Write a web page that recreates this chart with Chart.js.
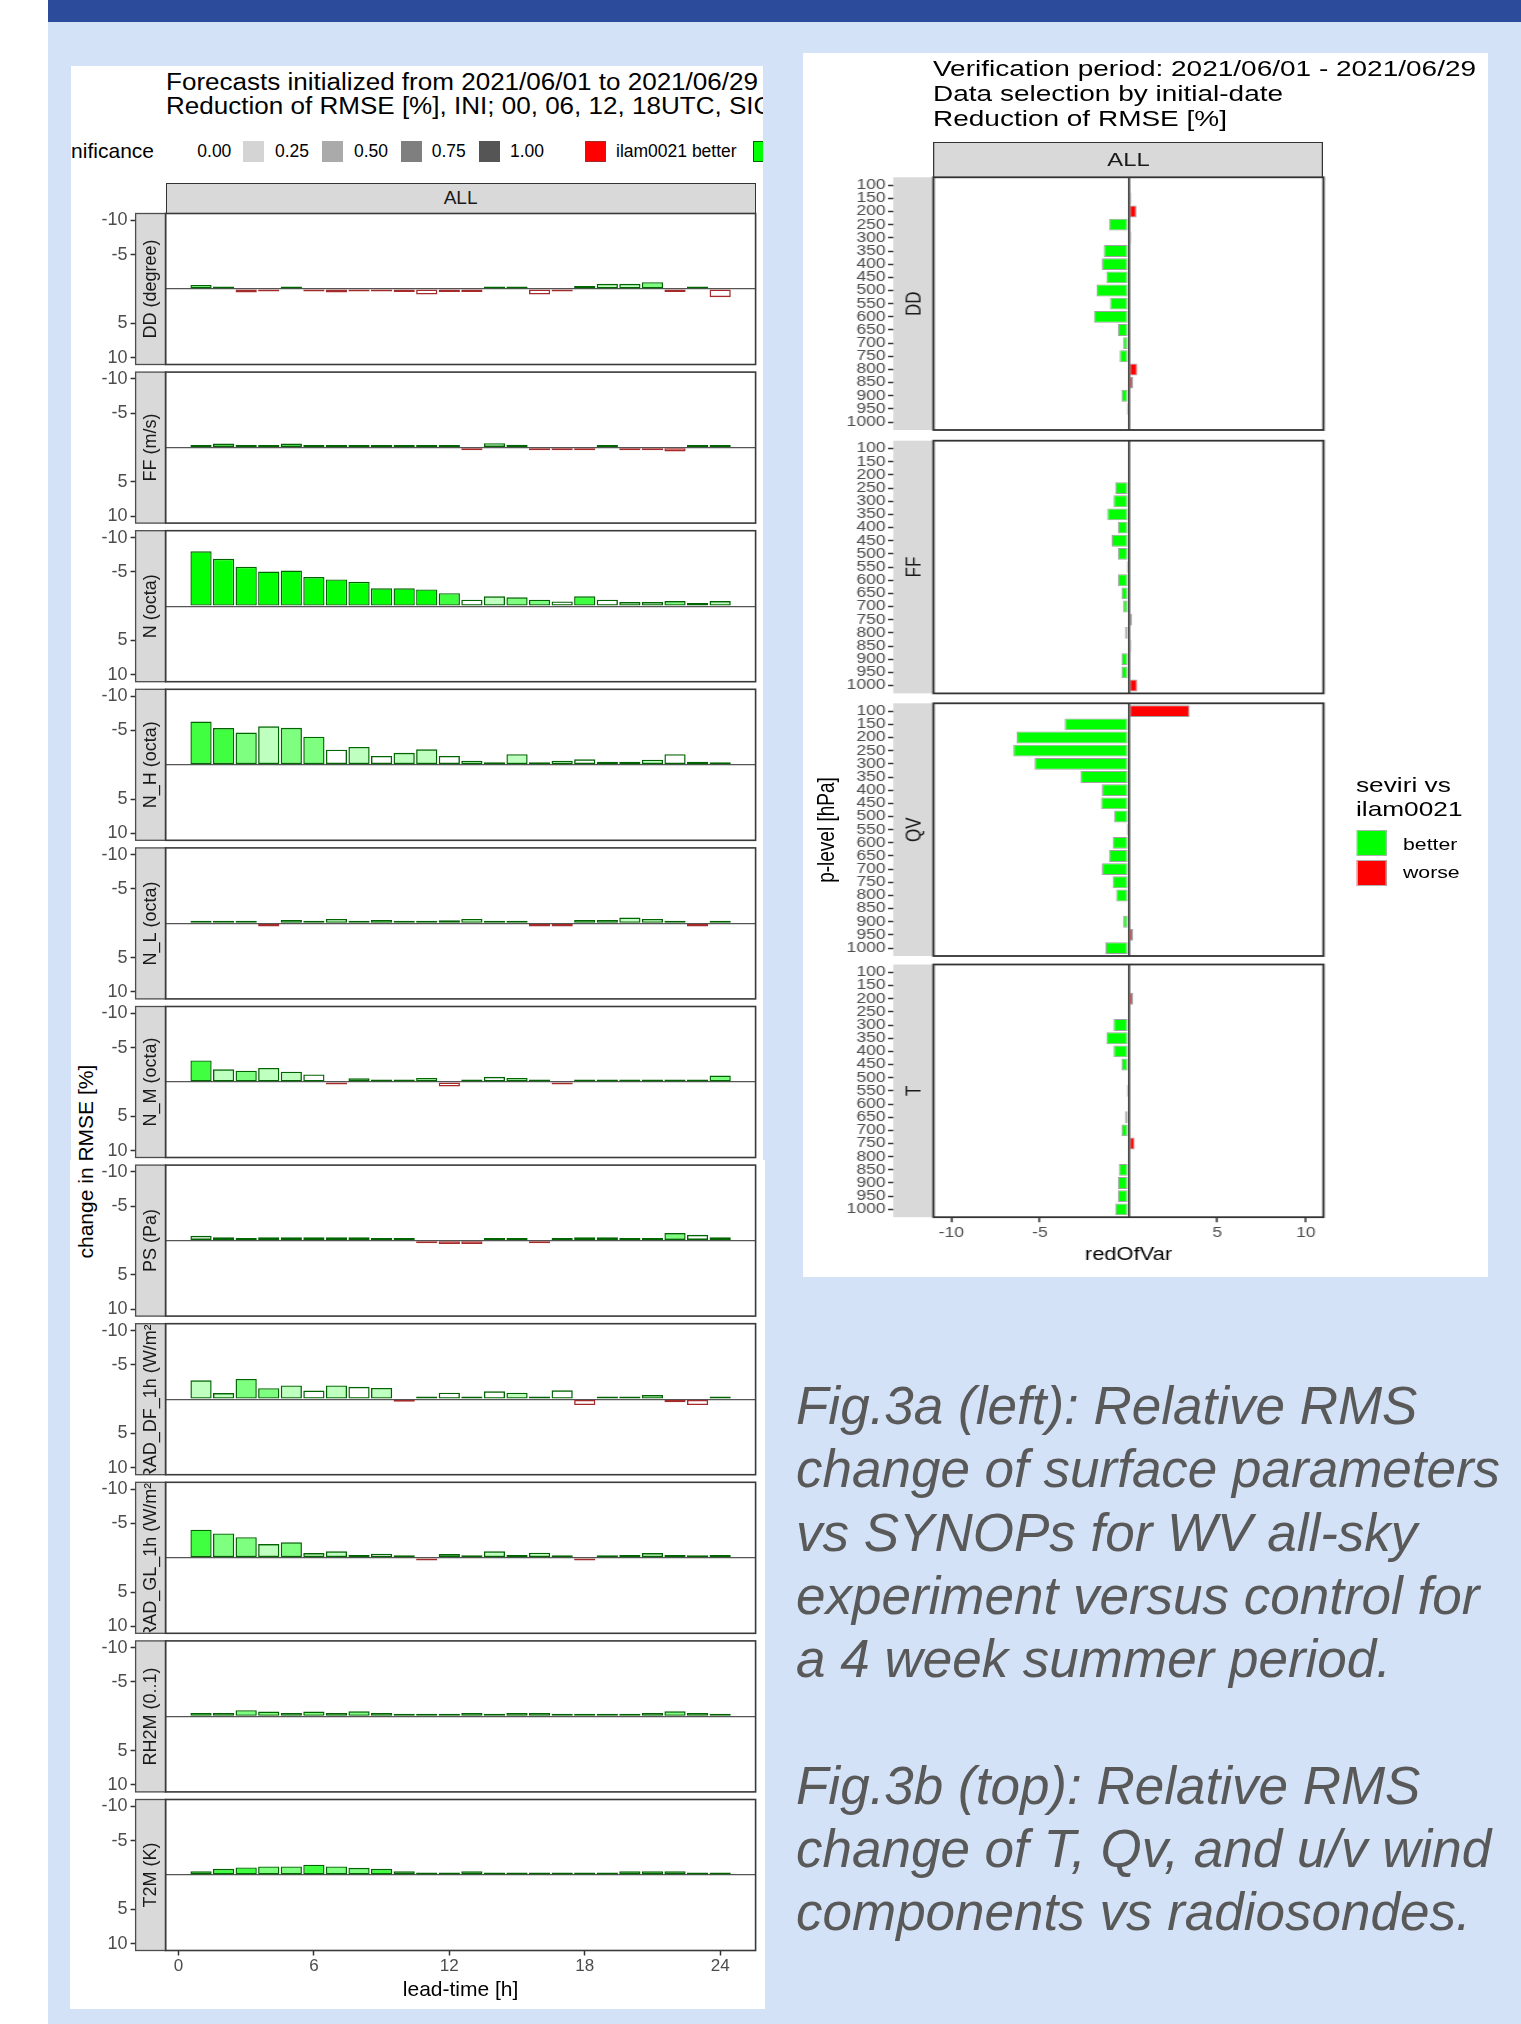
<!DOCTYPE html>
<html><head><meta charset="utf-8">
<script src="https://cdn.jsdelivr.net/npm/chart.js@4.4.1/dist/chart.umd.min.js"></script>
<style>
html,body{margin:0;padding:0;}
body{width:1521px;height:2024px;position:relative;overflow:hidden;background:#D3E2F6;font-family:"Liberation Sans",Arial,sans-serif;}
.abs{position:absolute;}
.nw{white-space:nowrap;}
canvas{position:absolute;}
</style></head><body>
<div class="abs" style="left:0;top:0;width:48px;height:2024px;background:#fff"></div>
<div class="abs" style="left:48px;top:0;width:1473px;height:22px;background:#2D4B9B"></div>
<div class="abs" style="left:71px;top:66px;width:692px;height:1094px;background:#fff"></div>
<div class="abs" style="left:70px;top:1160px;width:695px;height:849px;background:#fff"></div>
<div class="abs" style="left:803px;top:53px;width:685px;height:1224px;background:#fff"></div>
<div id="leftClip" class="abs" style="left:71px;top:66px;width:692px;height:120px;overflow:hidden"></div>
<div id="leftHost" class="abs" style="left:0;top:0;width:1521px;height:2024px"></div>
<div id="rightWrap" class="abs" style="left:803px;top:52px;width:548.8px;height:1225px;transform-origin:0 0;transform:scaleX(1.25)"></div>
<div id="caption" class="abs nw" style="left:796px;top:1374px;font-style:italic;font-size:53px;line-height:63.3px;color:#595959"></div>
<script>
// ---------------- DATA ----------------
const leadHours = [1,2,3,4,5,6,7,8,9,10,11,12,13,14,15,16,17,18,19,20,21,22,23,24];
const xTicksLeft = [0,6,12,18,24];
const yTicksLeft = [-10,-5,0,5,10];
const leftPanelLabels = ['DD (degree)','FF (m/s)','N (octa)','N_H (octa)','N_L (octa)','N_M (octa)','PS (Pa)','RAD_DF_1h (W/m\u00b2)','RAD_GL_1h (W/m\u00b2)','RH2M (0..1)','T2M (K)'];

const DD_val = [-0.6,-0.2,0.5,0.25,-0.3,0.25,0.5,0.25,0.25,0.45,0.8,0.45,0.45,-0.25,-0.25,0.8,0.25,-0.45,-0.75,-0.75,-1.0,0.45,-0.1,1.2];
const DD_sig = [0.5,0.5,0.25,0.5,0.5,0.5,0,0.5,0.5,0.25,0,0.25,0.25,0.5,0.5,0,0.5,0.5,0.25,0.25,0.5,0.25,0.5,0];
const FF_val = [-0.2,-0.6,-0.2,-0.35,-0.6,-0.15,-0.15,-0.15,-0.05,-0.05,-0.05,-0.05,0.05,-0.65,-0.4,0.4,0.4,0.1,-0.15,0.1,0.3,0.55,-0.05,-0.2];
const FF_sig = [0.5,0.5,0.5,0.25,0.75,0.5,0.5,0.5,0.5,0.5,0.5,0.5,0.5,0.25,0.25,0.75,0.75,0.5,0.5,0.5,0.75,0.5,0.5,0.5];
const N_val = [-8.0,-6.9,-5.75,-5.05,-5.2,-4.25,-3.9,-3.55,-2.6,-2.6,-2.45,-1.9,-0.95,-1.45,-1.3,-0.95,-0.7,-1.45,-0.95,-0.6,-0.6,-0.75,-0.45,-0.75];
const N_sig = [1,1,1,1,1,1,1,1,1,1,1,0.75,0,0.25,0.5,0.5,0,0.75,0,0.25,0.25,0.5,0.5,0.25];
const NH_val = [-6.3,-5.35,-4.7,-5.6,-5.4,-4.1,-2.2,-2.6,-1.3,-1.75,-2.25,-1.3,-0.6,-0.05,-1.55,-0.05,-0.6,-0.8,-0.45,-0.45,-0.75,-1.55,-0.45,-0.25];
const NH_sig = [0.75,0.75,0.5,0.25,0.5,0.5,0,0.25,0,0.25,0.25,0,0.25,0.5,0.25,0.5,0.25,0,0.5,0.5,0.25,0,0.5,0.5];
const NL_val = [-0.05,-0.05,-0.05,0.45,-0.5,-0.25,-0.65,-0.05,-0.5,-0.05,-0.2,-0.45,-0.65,-0.3,-0.05,0.45,0.45,-0.5,-0.5,-0.85,-0.65,-0.05,0.45,-0.3];
const NL_sig = [0.5,0.5,0.5,0.5,0.5,0.5,0.25,0.5,0.5,0.5,0.5,0.5,0.25,0.5,0.5,0.5,0.5,0.5,0.5,0.25,0.25,0.5,0.5,0.5];
const NM_val = [-3.15,-1.85,-1.65,-2.05,-1.5,-1.1,0.3,-0.55,-0.35,-0.2,-0.6,0.65,-0.35,-0.75,-0.6,-0.05,0.05,-0.35,-0.25,-0.35,-0.25,-0.35,-0.05,-0.95];
const NM_sig = [0.75,0.25,0.5,0.25,0.25,0,0.75,0.25,0.5,0.5,0.25,0,0.5,0,0.25,0.5,0.5,0.5,0.5,0.5,0.5,0.5,0.5,0.5];
const PS_val = [-0.7,-0.5,-0.35,-0.5,-0.5,-0.5,-0.5,-0.5,-0.2,-0.2,0.05,0.5,0.5,-0.05,-0.05,0.3,-0.05,-0.5,-0.5,-0.2,-0.35,-1.1,-0.85,-0.5];
const PS_sig = [0,0.25,0.5,0.25,0.5,0.25,0.25,0.5,0.5,0.5,0.5,0.5,0.5,0.5,0.5,0.75,0.5,0.5,0.5,0.5,0.5,0.5,0,0.25];
const RDF_val = [-2.75,-0.9,-2.95,-1.6,-2.0,-1.25,-2.0,-1.8,-1.65,0.25,-0.2,-0.95,-0.2,-1.15,-0.95,-0.4,-1.3,0.85,-0.4,-0.2,-0.6,0.45,0.85,-0.4];
const RDF_sig = [0.25,0.25,0.5,0.5,0.25,0,0.25,0,0.25,0.75,0.5,0,0.5,0,0.25,0.5,0,0,0.25,0.5,0.25,0.5,0,0.5];
const RGL_val = [-4.1,-3.55,-3.0,-2.0,-2.25,-0.7,-0.95,-0.4,-0.6,-0.25,0.3,-0.55,-0.25,-0.95,-0.4,-0.75,-0.25,0.3,-0.05,-0.4,-0.7,-0.4,-0.05,-0.4];
const RGL_sig = [0.75,0.5,0.5,0.25,0.5,0.25,0.25,0.5,0,0.5,0.5,0.25,0.5,0.25,0.5,0.25,0.5,0.5,0.5,0.5,0.25,0.75,0.5,0.5];
const RH_val = [-0.5,-0.5,-0.9,-0.7,-0.5,-0.7,-0.5,-0.75,-0.5,-0.35,-0.35,-0.35,-0.5,-0.15,-0.5,-0.5,-0.35,-0.35,-0.35,-0.35,-0.5,-0.75,-0.5,-0.35];
const RH_sig = [0.75,0.25,0.5,0.5,0.25,0.5,0.25,0.5,0.5,0.5,0.5,0.5,0.25,0.5,0.1,0.25,0.5,0.5,0.5,0.5,0.25,0.5,0.25,0.5];
const T2_val = [-0.55,-0.9,-1.1,-1.25,-1.25,-1.5,-1.25,-1.05,-0.9,-0.55,-0.35,-0.35,-0.55,-0.35,-0.35,-0.35,-0.35,-0.35,-0.35,-0.55,-0.55,-0.55,-0.35,-0.15];
const T2_sig = [0.75,0.75,0.75,0.5,0.5,0.75,0.5,0.5,0.75,0.25,0.5,0.5,0.25,0.5,0.5,0.5,0.5,0.5,0.5,0.25,0.5,0.25,0.5,0.5];

const leftValues = [DD_val,FF_val,N_val,NH_val,NL_val,NM_val,PS_val,RDF_val,RGL_val,RH_val,T2_val];
const leftSigs = [DD_sig,FF_sig,N_sig,NH_sig,NL_sig,NM_sig,PS_sig,RDF_sig,RGL_sig,RH_sig,T2_sig];

const pLevels = [100,150,200,250,300,350,400,450,500,550,600,650,700,750,800,850,900,950,1000];
const xTicksRight = [-10,-5,0,5,10];
const rightPanelLabels = ['DD','FF','QV','T'];
const R_DD = [0,0.15,0.45,-1.1,0.15,-1.4,-1.5,-1.25,-1.8,-1.05,-1.95,-0.6,-0.3,-0.5,0.5,0.25,-0.4,-0.05,0];
const R_FF = [0,0,0,-0.75,-0.85,-1.2,-0.6,-0.95,-0.6,-0.05,-0.6,-0.4,-0.3,0.2,-0.2,0.15,-0.4,-0.4,0.5];
const R_QV = [3.45,-3.6,-6.3,-6.5,-5.3,-2.7,-1.5,-1.55,-0.8,-0.05,-0.9,-1.1,-1.5,-0.9,-0.7,0,-0.3,0.25,-1.3];
const R_T  = [0,0,0.25,0,-0.85,-1.25,-0.85,-0.4,0,-0.05,0,-0.2,-0.4,0.35,0,-0.55,-0.6,-0.6,-0.75];
const rightValues = [R_DD,R_FF,R_QV,R_T];

const sigLegendLabels = ['0.00','0.25','0.50','0.75','1.00'];
const sigLegendGreys = ['#d4d4d4','#aaaaaa','#7f7f7f','#555555'];

// ---------------- HELPERS ----------------
Chart.defaults.font.family = '"Liberation Sans", Arial, sans-serif';
function el(parent, html, style, cls){ const d=document.createElement('div'); d.className='abs '+(cls||''); d.style.cssText=style; d.innerHTML=html; parent.appendChild(d); return d; }
function mkCanvas(parent, left, top, w, h){ const c=document.createElement('canvas'); c.width=w; c.height=h; c.style.left=left+'px'; c.style.top=top+'px'; c.style.width=w+'px'; c.style.height=h+'px'; parent.appendChild(c); return c; }

// ---------------- LEFT TITLE/LEGEND ----------------
const clip = document.getElementById('leftClip');
const t1 = el(clip,'<span>Forecasts initialized from 2021/06/01 to 2021/06/29</span>','left:95px;top:5px;font-size:23.5px;line-height:23.5px;color:#000;transform-origin:0 50%','nw');
const t2 = el(clip,'<span>Reduction of RMSE [%], INI; 00, 06, 12, 18UTC, SIG-Test</span>','left:95px;top:28.7px;font-size:23.5px;line-height:23.5px;color:#000;transform-origin:0 50%','nw');
const tw = t1.firstChild.getBoundingClientRect().width;
const ts = 592/tw;
t1.style.transform = 'scaleX('+ts+')'; t2.style.transform = 'scaleX('+ts+')';
el(clip,'significance','left:-120px;top:73px;width:203px;text-align:right;font-size:21px;line-height:24px;color:#000','nw');
const legLabelX = [126.3,204,283,360.7,439];
const legBoxX = [171.7,251,329.7,408];
sigLegendLabels.forEach((t,i)=>el(clip,t,'left:'+legLabelX[i]+'px;top:74.5px;font-size:17.5px;line-height:21px;color:#000','nw'));
sigLegendGreys.forEach((c,i)=>el(clip,'','left:'+legBoxX[i]+'px;top:74.7px;width:21px;height:21px;background:'+c));
el(clip,'','left:514px;top:74.7px;width:21px;height:21px;background:#ff0000;box-sizing:border-box;border:1px solid #a52a2a');
el(clip,'ilam0021 better','left:545px;top:74.5px;font-size:17.5px;line-height:21px;color:#000','nw');
el(clip,'','left:682px;top:74.7px;width:21px;height:21px;background:#00ff00;box-sizing:border-box;border:1px solid #006400');

const host = document.getElementById('leftHost');
el(host,'ALL','left:165.6px;top:183.3px;width:590px;height:31px;box-sizing:border-box;border:1.5px solid #333;background:#d9d9d9;text-align:center;font-size:19px;line-height:28px;color:#1a1a1a');
el(host,'change in RMSE [%]','left:-64px;top:1149.4px;width:300px;height:25.2px;text-align:center;font-size:21px;line-height:25.2px;color:#000;transform:rotate(-90deg)','nw');

// ---------------- LEFT PANELS ----------------
const leftStripPlugin = {
  id:'leftStrip',
  afterDraw(chart, args, opts){
    const ctx = chart.ctx, a = chart.chartArea;
    const w = 30, sx = a.left - w, h = a.bottom - a.top;
    ctx.save();
    ctx.fillStyle = '#d9d9d9'; ctx.fillRect(sx, a.top, w, h);
    ctx.strokeStyle = '#4d4d4d'; ctx.lineWidth = 1.3; ctx.strokeRect(sx, a.top, w, h);
    ctx.beginPath(); ctx.rect(sx+1, a.top+1, w-2, h-2); ctx.clip();
    ctx.translate(sx + w/2 + 0.5, a.top + h/2); ctx.rotate(-Math.PI/2);
    ctx.font = '18px "Liberation Sans", Arial, sans-serif'; ctx.fillStyle = '#1a1a1a';
    ctx.textAlign = 'center'; ctx.textBaseline = 'middle';
    ctx.fillText(opts.label, 0, 0);
    ctx.restore();
    ctx.save(); ctx.strokeStyle = '#3a3a3a'; ctx.lineWidth = 1.6;
    ctx.strokeRect(a.left, a.top, a.right - a.left, h); ctx.restore();
  }
};

const L_TOP0 = 213.5, L_STEP = 158.6, L_H = 151, L_LEFT = 165.6, L_RIGHT = 755.6, CAN_L = 71, CAN_R = 764;
leftValues.forEach((vals, i)=>{
  const sigs = leftSigs[i];
  const top = L_TOP0 + i*L_STEP;
  const last = i === leftValues.length - 1;
  const cTop = Math.round(top - 16);
  const padTop = top - cTop;
  const cH = last ? (2009 - cTop) : Math.round(padTop + L_H + 16);
  const padBot = last ? 0 : cH - padTop - L_H;
  const xH = last ? cH - padTop - L_H : 0;
  const cv = mkCanvas(host, CAN_L, cTop, CAN_R - CAN_L, cH);
  new Chart(cv, {
    type:'bar',
    data:{datasets:[{
      data: leadHours.map((h,k)=>({x:h, y:vals[k]})),
      backgroundColor: vals.map((v,k)=> v<0 ? 'rgba(0,255,0,'+sigs[k]+')' : 'rgba(255,0,0,'+sigs[k]+')'),
      borderColor: vals.map(v=> v<0 ? '#006400' : '#a52a2a'),
      borderWidth: 1.4, borderSkipped:false, barPercentage:0.94, categoryPercentage:1.0, minBarLength:2.6
    }]},
    options:{
      responsive:false, animation:false, devicePixelRatio:1,
      layout:{padding:{left:0, right:CAN_R - L_RIGHT, top:padTop, bottom:padBot}},
      plugins:{legend:{display:false}, tooltip:{enabled:false}, leftStrip:{label:leftPanelLabels[i]}},
      scales:{
        x:{type:'linear', min:-0.57, max:25.57, offset:false, display:last,
          afterBuildTicks:s=>{s.ticks = xTicksLeft.map(v=>({value:v}));},
          afterFit:s=>{s.height = xH;},
          ticks:{autoSkip:false, maxRotation:0, padding:1, color:'#4d4d4d', font:{size:17}},
          grid:{offset:false, drawOnChartArea:false, tickLength:5, tickColor:'#333', tickWidth:1.5},
          border:{display:false},
          title:{display:true, text:'lead-time [h]', color:'#000', font:{size:21}, padding:{top:0,bottom:6.4}}
        },
        y:{type:'linear', min:-11, max:11, reverse:true, offset:false,
          afterBuildTicks:s=>{s.ticks = yTicksLeft.map(v=>({value:v}));},
          afterFit:s=>{s.width = L_LEFT - CAN_L;},
          ticks:{autoSkip:false, padding:3, color:'#4d4d4d', font:{size:18}, callback:v=> v===0 ? '' : String(v)},
          grid:{drawOnChartArea:true, tickLength:35, tickWidth:1.5, lineWidth:1.2,
            color:c=> (c.tick && c.tick.value===0) ? '#555' : 'rgba(0,0,0,0)',
            tickColor:c=> (c.tick && c.tick.value===0) ? 'rgba(0,0,0,0)' : '#333'},
          border:{display:false}
        }
      }
    },
    plugins:[leftStripPlugin]
  });
});

// ---------------- RIGHT CHART (native coords, stretched x1.25) ----------------
const rw = document.getElementById('rightWrap');
el(rw,'Verification period: 2021/06/01 - 2021/06/29<br>Data selection by initial-date<br>Reduction of RMSE [%]','left:104px;top:3.6px;font-size:22.4px;line-height:25px;color:#000','nw');
el(rw,'ALL','left:104.4px;top:90px;width:312px;height:36px;box-sizing:border-box;border:1.5px solid #333;background:#d9d9d9;text-align:center;font-size:19px;line-height:33px;color:#1a1a1a');
el(rw,'p-level [hPa]','left:-130.8px;top:766px;width:300px;height:24px;text-align:center;font-size:19px;line-height:24px;color:#000;transform:rotate(-90deg)','nw');
el(rw,'seviri vs<br>ilam0021','left:442.4px;top:721.4px;font-size:21px;line-height:23.3px;color:#000','nw');
el(rw,'','left:443.2px;top:778px;width:24px;height:26px;background:#00ff00;box-sizing:border-box;border:1px solid #b0b0b0');
el(rw,'','left:443.2px;top:807.5px;width:24px;height:26px;background:#ff0000;box-sizing:border-box;border:1px solid #b0b0b0');
el(rw,'better','left:480px;top:783px;font-size:17px;line-height:20px;color:#000','nw');
el(rw,'worse','left:480px;top:811px;font-size:17px;line-height:20px;color:#000','nw');

const rightStripPlugin = {
  id:'rightStrip',
  afterDraw(chart, args, opts){
    const ctx = chart.ctx, a = chart.chartArea;
    const w = 32.2, sx = a.left - w, h = a.bottom - a.top;
    ctx.save();
    ctx.fillStyle = '#d9d9d9'; ctx.fillRect(sx, a.top, w, h);
    ctx.translate(sx + w/2 + 1, a.top + h/2); ctx.rotate(-Math.PI/2);
    ctx.font = '17px "Liberation Sans", Arial, sans-serif'; ctx.fillStyle = '#1a1a1a';
    ctx.textAlign = 'center'; ctx.textBaseline = 'middle';
    ctx.fillText(opts.label, 0, 0);
    ctx.restore();
    ctx.save(); ctx.strokeStyle = '#333'; ctx.lineWidth = 1.8;
    ctx.strokeRect(a.left, a.top, a.right - a.left, h); ctx.restore();
  }
};

const R_TOPS = [125.3, 388.7, 651.3, 912.5], R_H = 252.7, R_LEFT = 104.4, R_RIGHT = 416.4, R_CW = 428;
rightValues.forEach((vals, i)=>{
  const top = R_TOPS[i];
  const last = i === rightValues.length - 1;
  const cTop = Math.round(top - 14);
  const padTop = top - cTop;
  const cH = last ? (1222 - cTop) : Math.round(padTop + R_H + 14);
  const padBot = last ? 0 : cH - padTop - R_H;
  const xH = last ? cH - padTop - R_H : 0;
  const pts = pLevels.map((p,k)=>({x:vals[k], y:p})).filter(d=>d.x !== 0);
  const cv = mkCanvas(rw, 0, cTop, R_CW, cH);
  new Chart(cv, {
    type:'bar',
    data:{datasets:[{
      data: pts,
      backgroundColor: pts.map(d=> d.x<0 ? '#00ff00' : '#ff0000'),
      borderColor: 'rgba(130,130,130,0.75)',
      borderWidth: 1, borderSkipped:false, barPercentage:0.9, categoryPercentage:1.0, minBarLength:1.6
    }]},
    options:{
      indexAxis:'y', responsive:false, animation:false, devicePixelRatio:1,
      layout:{padding:{left:0, right:R_CW - R_RIGHT, top:padTop, bottom:padBot}},
      plugins:{legend:{display:false}, tooltip:{enabled:false}, rightStrip:{label:rightPanelLabels[i]}},
      scales:{
        y:{type:'linear', min:70, max:1030, reverse:true, offset:false,
          afterBuildTicks:s=>{s.ticks = pLevels.map(v=>({value:v}));},
          afterFit:s=>{s.width = R_LEFT;},
          ticks:{autoSkip:false, padding:2, color:'#4d4d4d', font:{size:14}, callback:v=>String(v)},
          grid:{offset:false, drawOnChartArea:false, tickLength:R_LEFT - 68, tickColor:'#333', tickWidth:1.5},
          border:{display:false}
        },
        x:{type:'linear', min:-11, max:11, offset:false,
          afterBuildTicks:s=>{s.ticks = xTicksRight.map(v=>({value:v}));},
          afterFit:s=>{s.height = xH;},
          ticks:{display:last, autoSkip:false, maxRotation:0, padding:2.1, color:'#4d4d4d', font:{size:14}, callback:v=> v===0 ? '' : String(v)},
          grid:{drawOnChartArea:true, drawTicks:last, tickLength:5, tickWidth:1.5,
            lineWidth:c=> (c.tick && c.tick.value===0) ? 1.6 : 0,
            color:c=> (c.tick && c.tick.value===0) ? '#333' : 'rgba(0,0,0,0)',
            tickColor:c=> (c.tick && c.tick.value===0) ? 'rgba(0,0,0,0)' : '#333'},
          border:{display:false},
          title:{display:last, text:'redOfVar', color:'#000', font:{size:17.5}, padding:{top:0,bottom:8.5}}
        }
      }
    },
    plugins:[rightStripPlugin]
  });
});

// ---------------- CAPTION ----------------
document.getElementById('caption').innerHTML =
 'Fig.3a (left): Relative RMS<br>change of surface parameters<br>vs SYNOPs for WV all-sky<br>experiment versus control for<br>a 4 week summer period.<br><br>Fig.3b (top): Relative RMS<br>change of T, Qv, and u/v wind<br>components vs radiosondes.';
</script>
</body></html>
